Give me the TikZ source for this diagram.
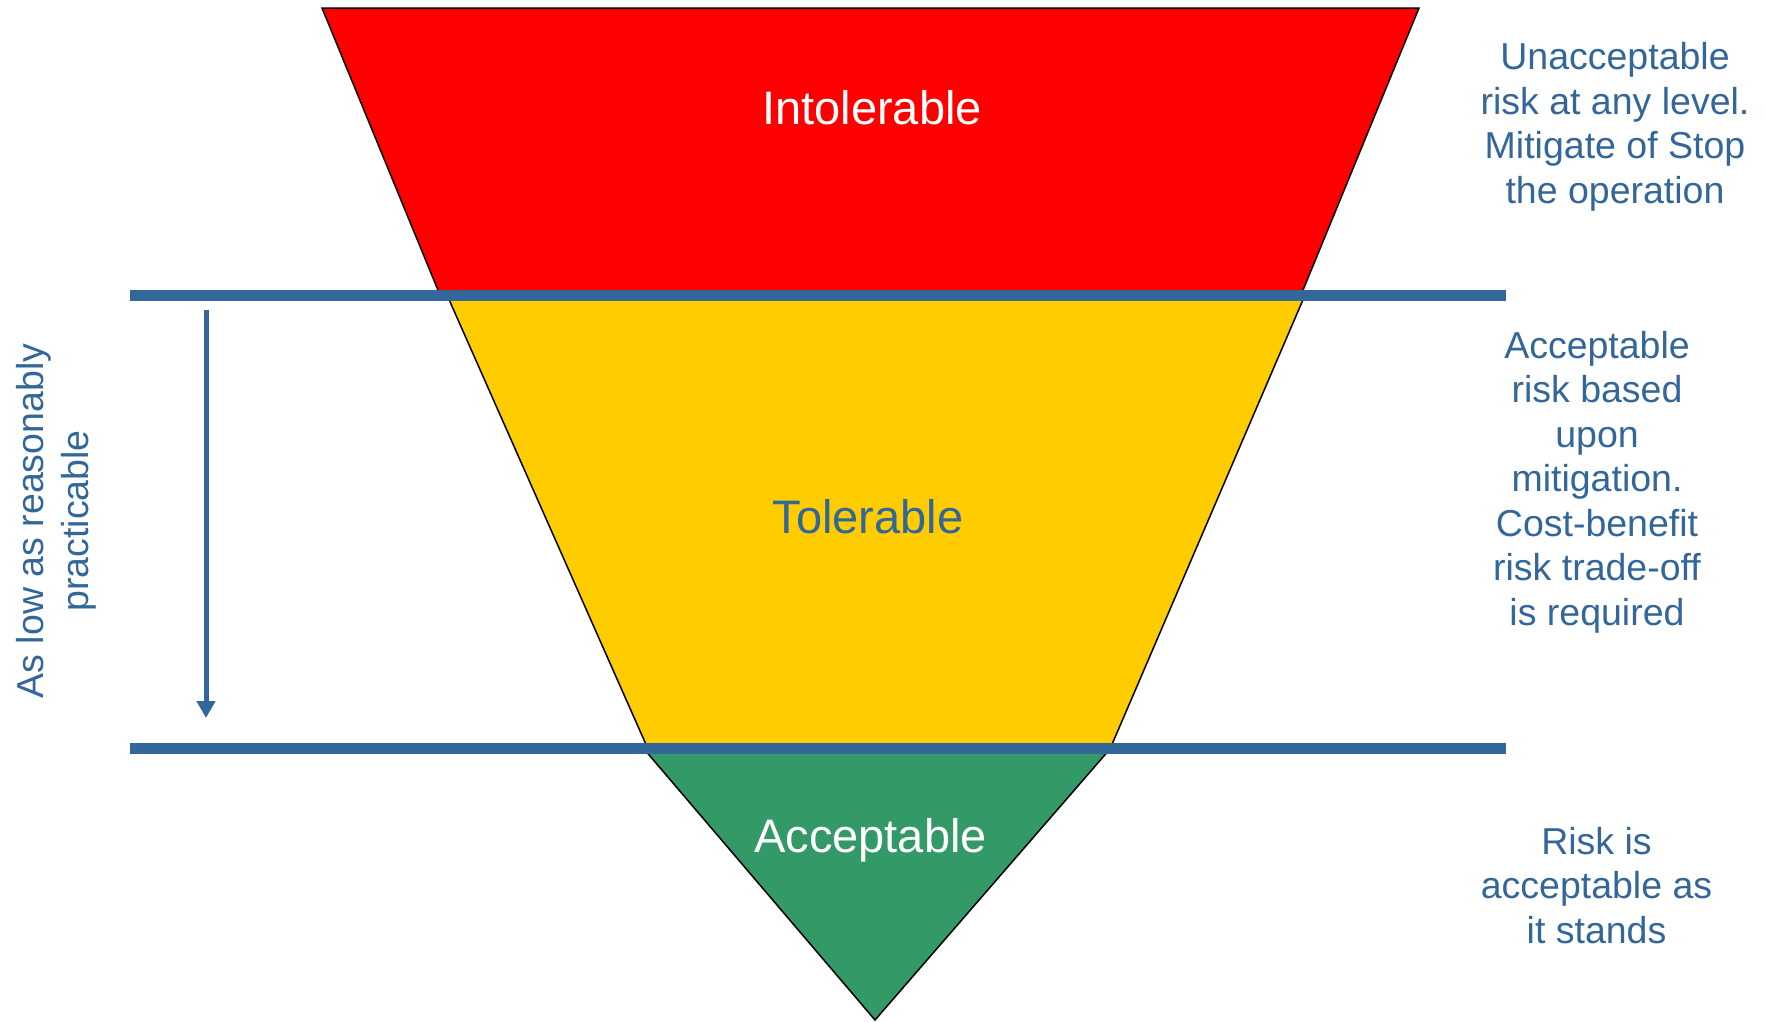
\documentclass[tikz,border=0pt]{standalone}
\usepackage{fontspec}
\setmainfont{Liberation Sans}
\usetikzlibrary{arrows.meta}
\definecolor{riskblue}{HTML}{336699}
\definecolor{riskred}{HTML}{FF0000}
\definecolor{riskyellow}{HTML}{FFCC00}
\definecolor{riskgreen}{HTML}{339966}
\begin{document}
\begin{tikzpicture}[x=1pt,y=-1pt,
	band/.style={draw=black,line width=1.5pt},
	bar/.style={riskblue,line width=11pt},
	zone/.style={font=\fontsize{47}{56}\selectfont,anchor=base},
	note/.style={riskblue,font=\fontsize{37.5}{44.5}\selectfont,align=center,anchor=base}]
		\useasboundingbox (0,0) rectangle (1766,1021);
		\filldraw[band,fill=riskred] (322,8) -- (1419,8) -- (1301,295) -- (440,295) -- cycle;
		\filldraw[band,fill=riskyellow] (447,295) -- (1305,295) -- (1110,749) -- (648,749) -- cycle;
		\filldraw[band,fill=riskgreen] (644,749) -- (1110,749) -- (875,1020) -- cycle;
		\coordinate (upperW) at (130,295.5);
		\coordinate (upperE) at (1506,295.5);
		\coordinate (lowerW) at (130,748.5);
		\coordinate (lowerE) at (1506,748.5);
		\draw[bar] (upperW) -- (upperE);
		\draw[bar] (lowerW) -- (lowerE);
		\coordinate (alarpTop) at (206,310);
		\coordinate (alarpBot) at (206,718);
		\draw[riskblue,line width=5pt,-{Triangle[width=18pt,length=17pt]}] (alarpTop) -- (alarpBot);
		\node[zone,text=white] (intol) at (872,124) {Intolerable};
		\node[zone,text=riskblue] (tol) at (868,533) {Tolerable};
		\node[zone,text=white] (accept) at (870.5,852) {Acceptable};
		\node[note] (intolNote) at (1615,203) {Unacceptable\\risk at any level.\\Mitigate of Stop\\the operation};
		\node[note] (tolNote) at (1597,625) {Acceptable\\risk based\\upon\\mitigation.\\Cost-benefit\\risk trade-off\\is required};
		\node[note] (acceptNote) at (1596.5,943) {Risk is\\acceptable as\\it stands};
		\node[note,rotate=90] (alarp) at (88,521) {As low as reasonably\\practicable};
		\end{tikzpicture}
\end{document}
